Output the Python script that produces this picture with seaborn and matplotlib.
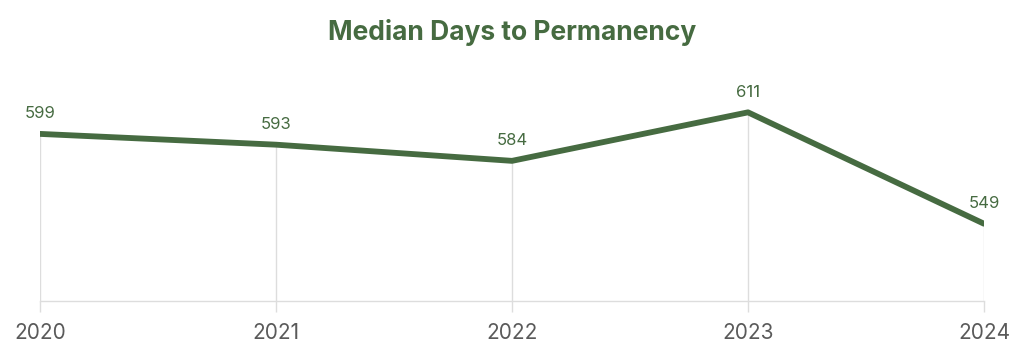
import matplotlib
matplotlib.use("Agg")
import matplotlib.pyplot as plt
import seaborn as sns
import pandas as pd

years = ["2020", "2021", "2022", "2023", "2024"]
median_days = [599, 593, 584, 611, 549]

green = "#466b41"
grid_col = "#dddddd"

sns.set_theme(style="white")
plt.rcParams['font.family'] = ['Inter', 'DejaVu Sans']

df = pd.DataFrame({"year": years, "days": median_days})
df["x"] = range(len(df))

fig = plt.figure(figsize=(10.24, 3.51), dpi=100)
ax = fig.add_axes([40/1024, 50/351, 944/1024, 221/351])

ymin, ymax = 506, 629
# vertical guides from the baseline up to each point
ax.vlines(df["x"], ymin, df["days"], color=grid_col, lw=1, zorder=1)
sns.lineplot(data=df, x="x", y="days", ax=ax, color=green, lw=4.2,
             solid_capstyle="round", zorder=3)

for xi, v in zip(df["x"], df["days"]):
    ax.annotate(str(v), (xi, v), xytext=(0, 9), textcoords="offset points",
                ha="center", va="bottom", fontsize=12, color=green)

ax.set_xlim(0, len(df) - 1)
ax.set_ylim(ymin, ymax)
ax.set_xticks(df["x"])
ax.set_xticklabels(years, fontsize=15, color="#5a5a5a")
ax.set_yticks([])
ax.set_xlabel("")
ax.set_ylabel("")
ax.tick_params(axis="x", length=8, width=1, color=grid_col, pad=8, bottom=True)
for s in ["top", "left", "right"]:
    ax.spines[s].set_visible(False)
ax.spines["bottom"].set_color(grid_col)
ax.spines["bottom"].set_linewidth(1)
ax.set_facecolor("none")

fig.text(0.5, 1 - 32/351, "Median Days to Permanency", ha="center", va="center",
         fontsize=19, fontweight="bold", color=green)

fig.savefig("out.png", dpi=100)
